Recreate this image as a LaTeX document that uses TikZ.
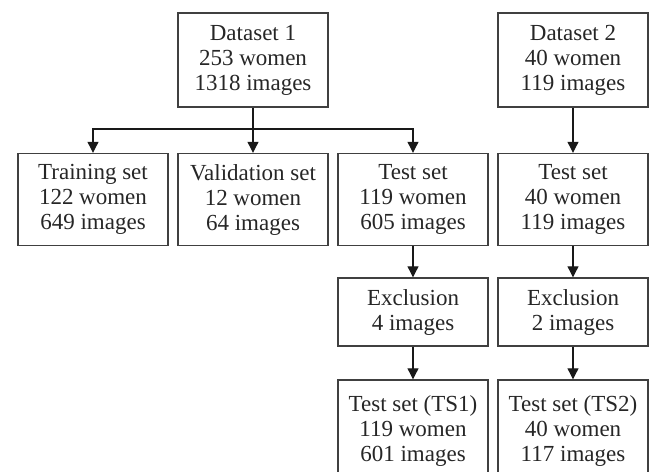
\documentclass[tikz,border=0pt]{standalone}
\usepackage{fontspec}
\usetikzlibrary{arrows.meta}
% text face of the boxes
\newfontfamily\boxfont{Liberation Serif}
\begin{document}
\begin{tikzpicture}[x=1pt,y=-1pt,
  box/.style={draw=black!75, line width=1.4pt, minimum width=150pt, inner sep=0pt,
    align=center, text=black!85, font=\boxfont\fontsize{23}{25}\selectfont},
  tall/.style={box, minimum height=92pt},
  short/.style={box, minimum height=68pt},
  arr/.style={line width=1.1pt, draw=black!90,
    -{Triangle[length=11pt,width=11pt]}}]
\useasboundingbox (0,0) rectangle (649,472);
\clip (0,0) rectangle (649,472);

% source datasets
\node[tall, minimum height=94pt] (d1) at (253,60) {Dataset 1\\253 women\\1318 images};
\node[tall, minimum height=94pt] (d2) at (573,60) {Dataset 2\\40 women\\119 images};

% split of dataset 1 and test set of dataset 2
\node[tall] (train) at (93,199.5) {Training set\\122 women\\649 images};
\node[tall] (val)   at (253,199.5) {Validation set\\12 women\\64 images};
\node[tall] (test1) at (413,199.5) {Test set\\119 women\\605 images};
\node[tall] (test2) at (573,199.5) {Test set\\40 women\\119 images};

% exclusions
\node[short] (ex1) at (413,312) {Exclusion\\4 images};
\node[short] (ex2) at (573,312) {Exclusion\\2 images};

% final test sets
\node[tall, minimum height=102pt] (ts1) at (413,431) {Test set (TS1)\\119 women\\601 images};
\node[tall, minimum height=102pt] (ts2) at (573,431) {Test set (TS2)\\40 women\\117 images};

% connectors
\coordinate (split) at (253,129);
\draw[arr] (d1.south) -- (val.north);
\draw[arr] (split) -| (train.north);
\draw[arr] (split) -| (test1.north);
\draw[arr] (d2.south) -- (test2.north);
\draw[arr] (test1.south) -- (ex1.north);
\draw[arr] (test2.south) -- (ex2.north);
\draw[arr] (ex1.south) -- (ts1.north);
\draw[arr] (ex2.south) -- (ts2.north);
\end{tikzpicture}
\end{document}
